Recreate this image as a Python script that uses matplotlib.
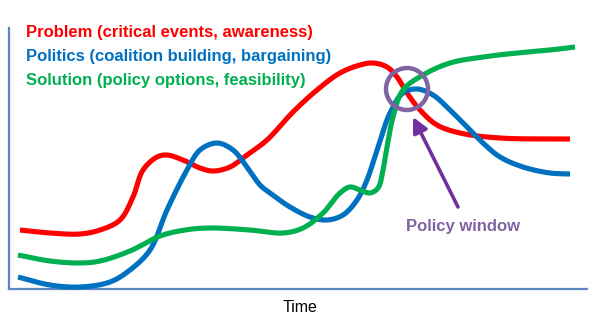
import numpy as np
import matplotlib
matplotlib.use("Agg")
import matplotlib.pyplot as plt
from matplotlib.patches import Circle

# ---- data (time in arbitrary units, level in arbitrary units) ----
red_t = [20, 50, 80, 100, 120, 133, 143, 157, 167, 183, 200, 213, 230, 247, 267, 293, 317, 340, 360, 373, 387, 397, 407, 420, 437, 460, 500, 570]
red_v = [59, 56, 55, 59, 69, 92, 119, 132, 134, 129, 121, 118, 122, 134, 149, 177, 199, 216, 224, 226, 222, 212, 196, 179, 164, 156, 151, 150]

blue_t = [18, 50, 80, 110, 130, 150, 167, 187, 200, 217, 233, 247, 260, 270, 290, 310, 327, 343, 357, 367, 377, 390, 403, 417, 433, 450, 467, 483, 500, 523, 550, 570]
blue_v = [12, 4, 2, 7, 19, 39, 79, 119, 139, 146, 139, 122, 104, 96, 82, 72, 69, 74, 89, 109, 139, 176, 196, 200, 194, 179, 162, 146, 132, 122, 116, 115]

green_t = [18, 50, 80, 100, 130, 160, 185, 210, 250, 283, 303, 323, 340, 350, 360, 370, 378, 383, 387, 393, 403, 423, 450, 483, 517, 550, 575]
green_v = [34, 28, 26, 28, 38, 53, 59, 61, 59, 56, 61, 76, 96, 102, 99, 96, 101, 119, 142, 172, 199, 214, 226, 232, 236, 239, 242]

labels = ["Problem (critical events, awareness)",
          "Politics (coalition building, bargaining)",
          "Solution (policy options, feasibility)"]
colors = ["#FF0000", "#0070C0", "#00B050"]
window_t, window_v = 407, 200
window_label = "Policy window"
xlabel = "Time"


def smooth(t, v, n=24, alpha=0.5):
    """Centripetal Catmull-Rom curve through the given points."""
    P = np.column_stack([np.asarray(t, float), np.asarray(v, float)])
    P = np.vstack([P[0] - (P[1] - P[0]), P, P[-1] + (P[-1] - P[-2])])
    out = []
    for i in range(1, len(P) - 2):
        p0, p1, p2, p3 = P[i - 1], P[i], P[i + 1], P[i + 2]
        t0 = 0.0
        t1 = t0 + np.linalg.norm(p1 - p0) ** alpha
        t2 = t1 + np.linalg.norm(p2 - p1) ** alpha
        t3 = t2 + np.linalg.norm(p3 - p2) ** alpha
        tt = np.linspace(t1, t2, n, endpoint=False)[:, None]
        A1 = (t1 - tt) / (t1 - t0) * p0 + (tt - t0) / (t1 - t0) * p1
        A2 = (t2 - tt) / (t2 - t1) * p1 + (tt - t1) / (t2 - t1) * p2
        A3 = (t3 - tt) / (t3 - t2) * p2 + (tt - t2) / (t3 - t2) * p3
        B1 = (t2 - tt) / (t2 - t0) * A1 + (tt - t0) / (t2 - t0) * A2
        B2 = (t3 - tt) / (t3 - t1) * A2 + (tt - t1) / (t3 - t1) * A3
        C = (t2 - tt) / (t2 - t1) * B1 + (tt - t1) / (t2 - t1) * B2
        out.append(C)
    out.append(P[-2][None, :])
    out = np.vstack(out)
    return out[:, 0], out[:, 1]


W, H = 600, 331
fig = plt.figure(figsize=(6, 3.31), dpi=100)
left, right, top, bottom = 8.5, 587, 28, 289
ax = fig.add_axes([left / W, (H - bottom) / H, (right - left) / W, (bottom - top) / H])
ax.set_xlim(left, right)
ax.set_ylim(0, bottom - top)
for s in ["top", "right"]:
    ax.spines[s].set_visible(False)
for s in ["left", "bottom"]:
    ax.spines[s].set_color("#5B87C5")
    ax.spines[s].set_linewidth(1.6)
ax.set_xticks([])
ax.set_yticks([])

for (t, v), c in zip([(red_t, red_v), (blue_t, blue_v), (green_t, green_v)], colors):
    xs, ys = smooth(t, v)
    ax.plot(xs, ys, color=c, lw=3.7, solid_capstyle="butt", clip_on=False, zorder=3)

font = "Liberation Sans"
ys_lab = [289 - 33, 289 - 57, 289 - 80]
for lab, c, y in zip(labels, colors, ys_lab):
    ax.text(26, y, lab, color=c, fontsize=12, fontweight="bold", family=font,
            ha="left", va="center", clip_on=False)

circ = Circle((window_t, window_v), 21, fill=False, edgecolor="#8064A2", lw=3.2, zorder=4, clip_on=False)
ax.add_patch(circ)
ax.annotate("", xy=(window_t + 6, window_v - 28), xytext=(458, 289 - 207),
            arrowprops=dict(arrowstyle="-|>,head_length=0.9,head_width=0.45", color="#7030A0",
                            lw=2.6, shrinkA=0, shrinkB=0), zorder=4, annotation_clip=False)
ax.text(463, 289 - 227, window_label, color="#8064A2", fontsize=12, fontweight="bold",
        family=font, ha="center", va="center", clip_on=False)

fig.text(300 / W, 1 - 308 / H, xlabel, fontsize=11.5, family=font, ha="center", va="center")

fig.savefig("out.png", dpi=100, facecolor="white")
